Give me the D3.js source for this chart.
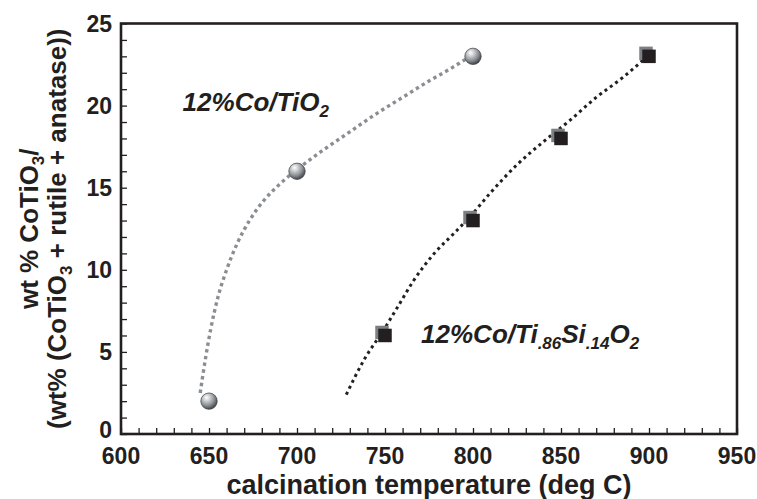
<!DOCTYPE html>
<html>
<head>
<meta charset="utf-8">
<script src="https://cdn.jsdelivr.net/npm/d3@7"></script>
<style>
  html, body { margin: 0; padding: 0; background: #fff; }
  svg { display: block; font-family: "Liberation Sans", Arial, Helvetica, sans-serif; }
</style>
</head>
<body>
<svg id="chart" width="757" height="499"></svg>
<script>
// Axis ticks
const xTickValues = [600, 650, 700, 750, 800, 850, 900, 950];
const yTickValues = [0, 5, 10, 15, 20, 25];

// Measured CoTiO3 fraction, 12%Co/TiO2
const tempTiO2 = [650, 700, 800];
const wtTiO2 = [2, 16, 23];

// Measured CoTiO3 fraction, 12%Co/Ti.86Si.14O2
const tempTiSi = [750, 800, 850, 900];
const wtTiSi = [6, 13, 18, 23];

// Trend curves drawn through each series
const fitTempTiO2 = [645, 648, 651, 655, 660, 666, 673, 681, 690, 700, 715, 730, 745, 760, 775, 788, 797];
const fitWtTiO2 = [2.5, 4.6, 6.4, 8.3, 10.0, 11.6, 13.0, 14.2, 15.2, 16.1, 17.3, 18.4, 19.5, 20.5, 21.5, 22.3, 22.9];

const fitTempTiSi = [728, 738, 749, 757, 766, 778, 789, 798, 810, 825, 840, 855, 870, 885, 900];
const fitWtTiSi = [2.4, 4.5, 6.3, 7.7, 9.3, 11.0, 12.2, 13.2, 14.7, 16.4, 17.8, 19.1, 20.5, 21.7, 23.1];

const svg = d3.select("#chart");
const W = 757, H = 499;
const margin = { left: 121, right: 20, top: 23.5, bottom: 65 };

const x = d3.scaleLinear().domain([600, 950]).range([margin.left, W - margin.right]);
const y = d3.scaleLinear().domain([0, 25]).range([H - margin.bottom, margin.top]);

const ink = "#231f20";

// Marker shading
const defs = svg.append("defs");
const grad = defs.append("radialGradient").attr("id", "ball")
  .attr("cx", "38%").attr("cy", "32%").attr("r", "70%").attr("fx", "35%").attr("fy", "28%");
grad.append("stop").attr("offset", "0%").attr("stop-color", "#ffffff");
grad.append("stop").attr("offset", "25%").attr("stop-color", "#d4d6d8");
grad.append("stop").attr("offset", "65%").attr("stop-color", "#8c9094");
grad.append("stop").attr("offset", "100%").attr("stop-color", "#3e4144");

// Minor ticks along the bottom and left edges, pointing inward
const xAxis = d3.axisBottom(x).tickValues(d3.range(600, 951, 10)).tickSize(-6).tickFormat("");
const yAxis = d3.axisLeft(y).tickValues(d3.range(0, 26, 1)).tickSize(-6).tickFormat("");

const gx = svg.append("g").attr("transform", `translate(0,${y(0)})`).call(xAxis);
const gy = svg.append("g").attr("transform", `translate(${x(600)},0)`).call(yAxis);
[gx, gy].forEach(g => {
  g.select(".domain").remove();
  g.selectAll(".tick line").attr("stroke", ink).attr("stroke-width", 1.3);
});

// Tick labels
svg.append("g").selectAll("text").data(xTickValues).join("text")
  .attr("x", d => x(d)).attr("y", y(0) + 30)
  .attr("text-anchor", "middle")
  .attr("font-size", 23).attr("font-weight", "bold").attr("fill", ink)
  .text(d => d);

// the zero label sits a little higher so it clears the first x label
svg.append("g").selectAll("text").data(yTickValues).join("text")
  .attr("x", x(600) - 9).attr("y", d => y(d) + (d === 0 ? 4 : 8))
  .attr("text-anchor", "end")
  .attr("font-size", 23).attr("font-weight", "bold").attr("fill", ink)
  .text(d => d);

// Plot frame
svg.append("rect")
  .attr("x", x(600)).attr("y", y(25))
  .attr("width", x(950) - x(600)).attr("height", y(0) - y(25))
  .attr("fill", "none").attr("stroke", ink).attr("stroke-width", 2.6);

// Trend curves
const line = d3.line().x(d => x(d[0])).y(d => y(d[1])).curve(d3.curveMonotoneX);

svg.append("path")
  .attr("d", line(d3.zip(fitTempTiO2, fitWtTiO2)))
  .attr("fill", "none").attr("stroke", "#8a8e93")
  .attr("stroke-width", 3.4).attr("stroke-dasharray", "3.4,3.4");

svg.append("path")
  .attr("d", line(d3.zip(fitTempTiSi, fitWtTiSi)))
  .attr("fill", "none").attr("stroke", ink)
  .attr("stroke-width", 3).attr("stroke-dasharray", "3,3.6");

// Square markers with a bevelled upper-left edge
const sq = 13.5, off = 3;
const squares = svg.append("g").selectAll("g").data(d3.zip(tempTiSi, wtTiSi)).join("g")
  .attr("transform", d => `translate(${x(d[0])},${y(d[1])})`);
squares.append("rect")
  .attr("x", -sq / 2 - off).attr("y", -sq / 2 - off)
  .attr("width", sq).attr("height", sq).attr("fill", "#7c8085");
squares.append("rect")
  .attr("x", -sq / 2).attr("y", -sq / 2)
  .attr("width", sq).attr("height", sq).attr("fill", ink);

// Sphere markers
svg.append("g").selectAll("circle").data(d3.zip(tempTiO2, wtTiO2)).join("circle")
  .attr("cx", d => x(d[0])).attr("cy", d => y(d[1])).attr("r", 8.2)
  .attr("fill", "url(#ball)").attr("stroke", "#3a3c3e").attr("stroke-width", 0.7);

// Series labels
function seriesLabel(px, py, parts) {
  const t = svg.append("text")
    .attr("x", x(px)).attr("y", y(py))
    .attr("font-size", 26).attr("font-weight", "bold").attr("font-style", "italic")
    .attr("fill", ink);
  let shift = 0;
  parts.forEach(([str, sub]) => {
    const dy = (sub ? 6 : 0) - shift;
    shift = sub ? 6 : 0;
    t.append("tspan").attr("dy", dy).attr("font-size", sub ? 17 : 26).text(str);
  });
}
seriesLabel(635, 19.7, [["12%Co/TiO", false], ["2", true]]);
seriesLabel(770.5, 5.55, [["12%Co/Ti", false], [".86", true], ["Si", false], [".14", true], ["O", false], ["2", true]]);

// Axis titles
svg.append("text")
  .attr("x", (x(600) + x(950)) / 2).attr("y", 494)
  .attr("text-anchor", "middle")
  .attr("font-size", 27).attr("font-weight", "bold").attr("fill", ink)
  .text("calcination temperature (deg C)");

const yMid = (y(0) + y(25)) / 2;
const yt1 = svg.append("text")
  .attr("transform", `translate(38,${yMid}) rotate(-90)`)
  .attr("text-anchor", "middle")
  .attr("font-size", 26).attr("font-weight", "bold").attr("fill", ink);
yt1.append("tspan").text("wt % CoTiO");
yt1.append("tspan").attr("dy", 6).attr("font-size", 17).text("3");
yt1.append("tspan").attr("dy", -6).text("/");

const yt2 = svg.append("text")
  .attr("transform", `translate(66,${yMid}) rotate(-90)`)
  .attr("text-anchor", "middle")
  .attr("font-size", 26).attr("font-weight", "bold").attr("fill", ink);
yt2.append("tspan").text("(wt% (CoTiO");
yt2.append("tspan").attr("dy", 6).attr("font-size", 17).text("3");
yt2.append("tspan").attr("dy", -6).text(" + rutile + anatase))");
</script>
</body>
</html>
